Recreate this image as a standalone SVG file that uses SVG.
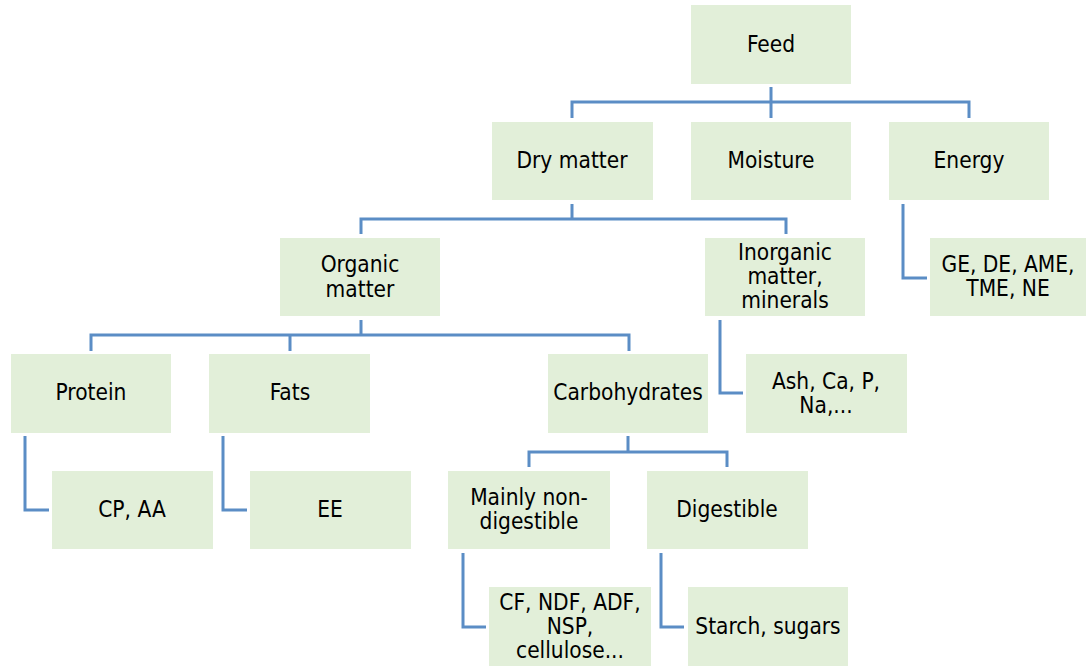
<svg xmlns="http://www.w3.org/2000/svg" width="1086" height="666" viewBox="0 0 1086 666">
<style>
.n rect{fill:#E2EFD9;stroke:none}
.n text{font-family:"DejaVu Sans Condensed","DejaVu Sans",sans-serif;font-stretch:condensed;font-size:22.5px;fill:#000;text-anchor:middle}
.c path{fill:none;stroke:#5B8DC5;stroke-width:3}
</style>
<rect width="1086" height="666" fill="#fff"/>
<g class="c">
<path d="M771 87V118M572 118V102H969V118"/>
<path d="M572 204V219M361 234V219H786V234"/>
<path d="M903 204V278H927"/>
<path d="M361 320V335M91 351V335H629V351M290 335V351"/>
<path d="M720 320V393H743"/>
<path d="M25 436V510H49"/>
<path d="M223 436V510H247"/>
<path d="M628 436V452M529 467V452H727V467"/>
<path d="M463 553V627H486"/>
<path d="M661 553V627H684"/>
</g>
<g id="feed" class="n"><rect x="691" y="5" width="160" height="79"/><text x="771" y="52">Feed</text></g>
<g id="dry" class="n"><rect x="492" y="122" width="161" height="78"/><text x="572" y="168">Dry matter</text></g>
<g id="moisture" class="n"><rect x="691" y="122" width="160" height="78"/><text x="771" y="168">Moisture</text></g>
<g id="energy" class="n"><rect x="889" y="122" width="160" height="78"/><text x="969" y="168">Energy</text></g>
<g id="organic" class="n"><rect x="280" y="238" width="160" height="78"/><text x="360" y="272">Organic</text><text x="360" y="297">matter</text></g>
<g id="inorganic" class="n"><rect x="705" y="238" width="160" height="78"/><text x="785" y="260">Inorganic</text><text x="785" y="284">matter,</text><text x="785" y="308">minerals</text></g>
<g id="ge" class="n"><rect x="930" y="238" width="156" height="78"/><text x="1008" y="272">GE, DE, AME,</text><text x="1008" y="296">TME, NE</text></g>
<g id="protein" class="n"><rect x="11" y="354" width="160" height="79"/><text x="91" y="400">Protein</text></g>
<g id="fats" class="n"><rect x="209" y="354" width="161" height="79"/><text x="290" y="400">Fats</text></g>
<g id="carb" class="n"><rect x="548" y="354" width="160" height="79"/><text x="628" y="400">Carbohydrates</text></g>
<g id="ash" class="n"><rect x="746" y="354" width="161" height="79"/><text x="826" y="389">Ash, Ca, P,</text><text x="826" y="413">Na,...</text></g>
<g id="cpaa" class="n"><rect x="52" y="471" width="161" height="78"/><text x="132" y="517">CP, AA</text></g>
<g id="ee" class="n"><rect x="250" y="471" width="161" height="78"/><text x="330" y="517">EE</text></g>
<g id="nondig" class="n"><rect x="448" y="471" width="162" height="78"/><text x="529" y="505">Mainly non-</text><text x="529" y="529">digestible</text></g>
<g id="dig" class="n"><rect x="647" y="471" width="161" height="78"/><text x="727" y="517">Digestible</text></g>
<g id="cf" class="n"><rect x="489" y="587" width="162" height="79"/><text x="570" y="610">CF, NDF, ADF,</text><text x="570" y="634">NSP,</text><text x="570" y="658">cellulose...</text></g>
<g id="starch" class="n"><rect x="688" y="587" width="160" height="79"/><text x="768" y="634">Starch, sugars</text></g>
</svg>
